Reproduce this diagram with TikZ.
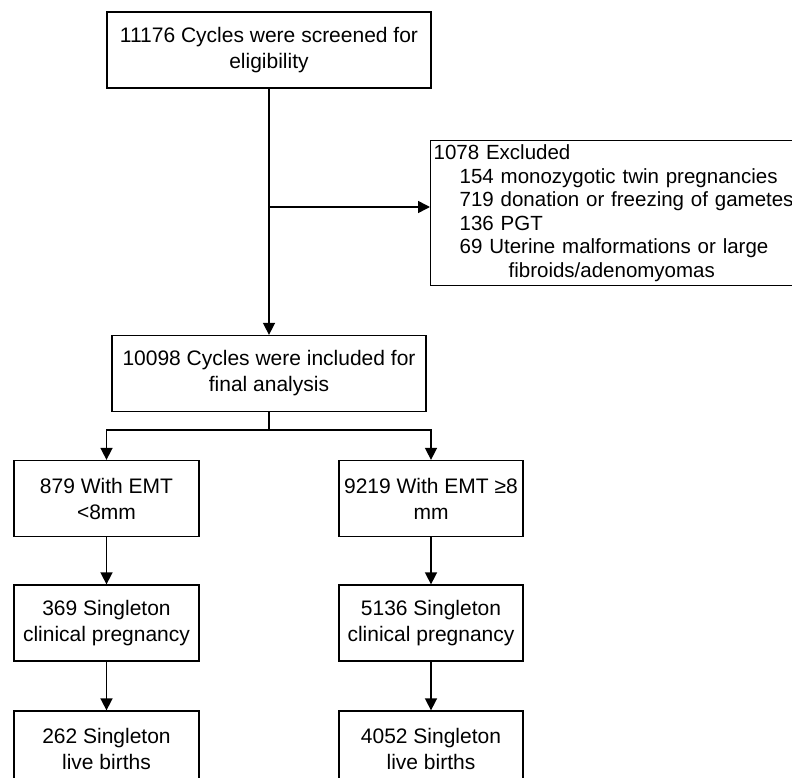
\documentclass[tikz,border=0pt]{standalone}
\usepackage{fontspec}
\setmainfont{Liberation Sans}
\usetikzlibrary{arrows.meta}

\begin{document}
\begin{tikzpicture}[x=1pt,y=-1pt,
    box/.style={draw,line width=1.3pt,align=center,inner sep=0pt,minimum height=76pt,font=\fontsize{21}{26}\selectfont},
    arr/.style={line width=1.6pt,-{Triangle[width=12pt,length=12pt]}}]
\useasboundingbox (0,0) rectangle (792,778);
\node[box,minimum width=324pt] (screen) at (269,50) {11176 Cycles were screened for\\eligibility};
\node[box,minimum width=314pt] (incl) at (269,373.5) {10098 Cycles were included for\\final analysis};
\node[draw,line width=1.3pt,anchor=north west,align=left,inner xsep=3pt,inner ysep=0pt,
      minimum height=145pt,text width=420pt,font=\fontsize{20.5}{23.5}\selectfont] (excl) at (430,140)
  {1078 Excluded\\
   \hspace*{26pt}154 monozygotic twin pregnancies\\
   \hspace*{26pt}719 donation or freezing of gametes\\
   \hspace*{26pt}136 PGT\\
   \hspace*{26pt}69 Uterine malformations or large\\
   \hspace*{75pt}fibroids/adenomyomas};
\node[box,minimum width=185pt] (thin) at (106.5,498.5) {879 With EMT\\<8mm};
\node[box,minimum width=184pt] (thick) at (431,498.5) {9219 With EMT ≥8\\mm};
\node[box,minimum width=185pt] (thinpreg) at (106.5,623) {369 Singleton\\clinical pregnancy};
\node[box,minimum width=184pt] (thickpreg) at (431,623) {5136 Singleton\\clinical pregnancy};
\node[box,minimum width=185pt] (thinlive) at (106.5,749) {262 Singleton\\live births};
\node[box,minimum width=184pt] (thicklive) at (431,749) {4052 Singleton\\live births};

\coordinate (split) at (269,207);
\coordinate (fork) at (269,430);
\draw[arr] (screen) -- (incl);
\draw[arr] (split) -- (split -| excl.west);
\draw[line width=1.6pt] (incl) -- (fork);
\draw[arr] (fork) -| (thin);
\draw[arr] (fork) -| (thick);
\draw[arr] (thin) -- (thinpreg);
\draw[arr] (thick) -- (thickpreg);
\draw[arr] (thinpreg) -- (thinlive);
\draw[arr] (thickpreg) -- (thicklive);
\end{tikzpicture}
\end{document}
